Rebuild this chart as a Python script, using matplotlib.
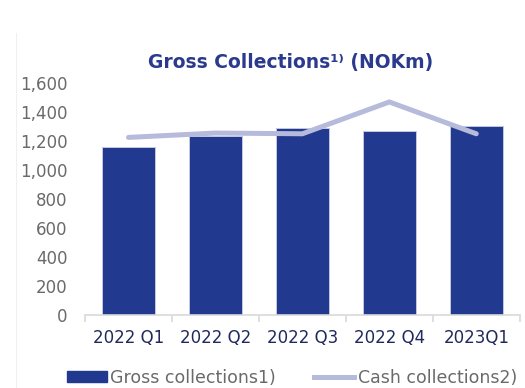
import matplotlib.pyplot as plt
from matplotlib.lines import Line2D
import numpy as np

# Datos
trimestres = ["2022 Q1", "2022 Q2", "2022 Q3", "2022 Q4", "2023Q1"]
gross_collections = [1156, 1234, 1285, 1264, 1299]
cash_collections = [1223, 1253, 1248, 1467, 1248]
y_ticks = [0, 200, 400, 600, 800, 1000, 1200, 1400, 1600]

color_barra = "#213A8F"
color_linea = "#B6BADB"
color_gris = "#6A6A6A"
color_navy = "#1F2A5C"

fig = plt.figure(figsize=(5.25, 3.88), dpi=100)
ax = fig.add_axes([0.162, 0.188, 0.828, 0.599])

x = np.arange(len(trimestres))
ax.bar(x, gross_collections, width=0.61, color=color_barra,
       edgecolor="#C3C7DE", linewidth=0.7, zorder=2, label="Gross collections1)")
ax.plot(x, cash_collections, color=color_linea, linewidth=3.6,
        solid_capstyle="round", solid_joinstyle="miter", zorder=3,
        label="Cash collections2)")

ax.set_xlim(-0.5, len(trimestres) - 0.5)
ax.set_ylim(0, 1600)

# Ejes
for lado in ["top", "right", "left"]:
    ax.spines[lado].set_visible(False)
ax.spines["bottom"].set_color("#D9D9D9")
ax.spines["bottom"].set_linewidth(1.2)

ax.set_xticks(x)
ax.set_xticklabels(trimestres)
ax.set_xticks(np.arange(len(trimestres) + 1) - 0.5, minor=True)
ax.tick_params(axis="x", which="major", length=0, pad=10, labelsize=12,
               labelcolor=color_navy)
ax.tick_params(axis="x", which="minor", length=5, width=1.2, color="#D9D9D9")

ax.set_yticks(y_ticks)
ax.set_yticklabels([f"{v:,}" for v in y_ticks])
ax.tick_params(axis="y", length=0, pad=12.5, labelsize=12, labelcolor=color_gris)

# Titulo
fig.text(0.554, 0.840, "Gross Collections\u00b9\u207e (NOKm)", ha="center", va="center",
         fontsize=13.5, fontweight="bold", color="#2B3A8C")

# Leyenda
handles = [
    plt.Rectangle((0, 0), 1, 1, color=color_barra),
    Line2D([0], [0], color=color_linea, linewidth=3.6),
]
fig.legend(handles, ["Gross collections1)", "Cash collections2)"],
           loc="center", bbox_to_anchor=(0.556, 0.026), ncol=2, frameon=False,
           fontsize=12.5, labelcolor=color_gris, handlelength=2.3, handleheight=0.6,
           handletextpad=0.2, columnspacing=2.2)

# Linea tenue del borde izquierdo
fig.add_artist(Line2D([16 / 525, 16 / 525], [0, 1 - 33 / 388], color="#F0F0F0",
                      linewidth=0.8, transform=fig.transFigure))

fig.savefig("out.png", dpi=100)
